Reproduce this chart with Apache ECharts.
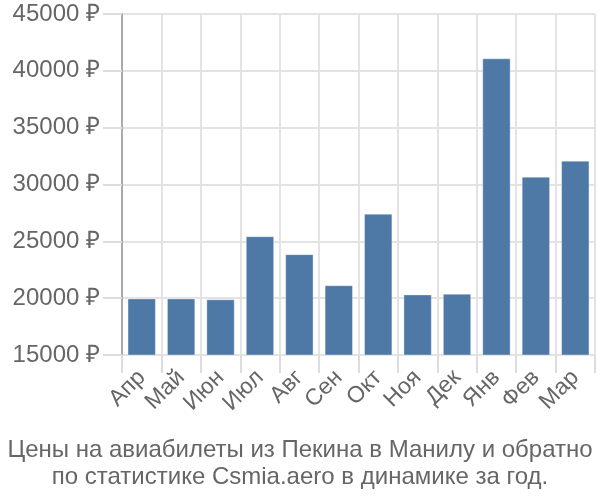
<!DOCTYPE html>
<html><head><meta charset="utf-8">
<script src="https://cdn.jsdelivr.net/npm/echarts@6/dist/echarts.min.js"></script>
<style>html,body{margin:0;padding:0;background:#fff}#c{width:600px;height:500px}</style>
</head><body><div id="c"></div>
<script>
const categories = ['Апр','Май','Июн','Июл','Авг','Сен','Окт','Ноя','Дек','Янв','Фев','Мар'];
const prices = [19980, 19980, 19900, 25450, 23870, 21140, 27430, 20330, 20390, 41100, 30690, 32100];
const yTicks = [15000, 20000, 25000, 30000, 35000, 40000, 45000];
const titleLines = ['Цены на авиабилеты из Пекина в Манилу и обратно', 'по статистике Csmia.aero в динамике за год.'];

const chart = echarts.init(document.getElementById('c'), null, {renderer:'canvas'});
chart.setOption({
  animation:false,
  title:{
    text: titleLines.join('\n'),
    left:'center', top:432,
    textStyle:{fontFamily:'Liberation Sans, Arial', fontSize:24, fontWeight:'normal', color:'#666', lineHeight:27}
  },
  grid:{left:122, right:5, top:14, bottom:145, containLabel:false},
  xAxis:{
    type:'category', data:categories,
    axisLine:{show:false},
    axisTick:{show:true, length:18, lineStyle:{color:'#ddd', width:2}, alignWithLabel:false},
    splitLine:{show:true, lineStyle:{color:'#e3e3e3', width:2}},
    axisLabel:{rotate:45, margin:19, fontFamily:'Liberation Sans, Arial', fontSize:23, color:'#666', interval:0}
  },
  yAxis:{
    type:'value', min:yTicks[0], max:yTicks[yTicks.length-1], interval:5000,
    axisLine:{show:true, lineStyle:{color:'#aaa', width:2}},
    axisTick:{show:true, length:19, lineStyle:{color:'#ddd', width:2}},
    splitLine:{show:true, lineStyle:{color:'#e3e3e3', width:2}},
    axisLabel:{margin:22, fontFamily:'Liberation Sans, Arial', fontSize:24, color:'#666', formatter: v => v + ' ₽'}
  },
  series:[{
    type:'bar', data:prices, barCategoryGap:'28%',
    itemStyle:{color:'#4e79a7', borderColor:'rgba(255,255,255,0.35)', borderWidth:1}
  }]
});
</script></body></html>
